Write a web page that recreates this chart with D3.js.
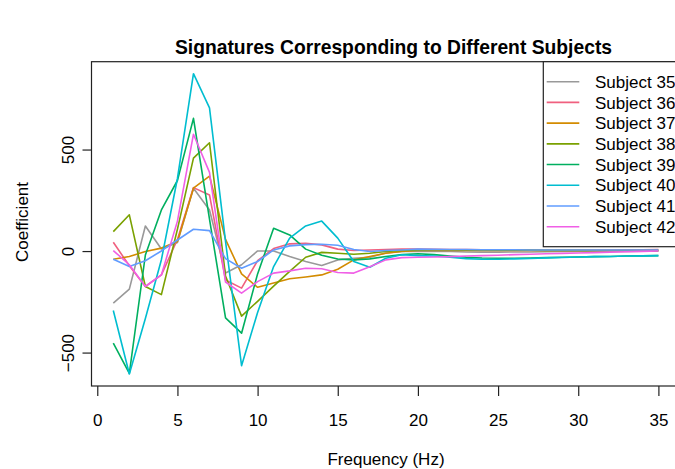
<!DOCTYPE html>
<html>
<head>
<meta charset="utf-8">
<script src="https://cdn.jsdelivr.net/npm/d3@7"></script>
<style>
  html, body { margin: 0; padding: 0; background: #fff; }
  svg { display: block; font-family: "Liberation Sans", Arial, sans-serif; }
</style>
</head>
<body>
<svg id="chart" width="675" height="469"></svg>
<script>
const frequencies = d3.range(1, 36);
const subjects = ["Subject 35", "Subject 36", "Subject 37", "Subject 38", "Subject 39", "Subject 40", "Subject 41", "Subject 42"];
const colors = ["#999999", "#F0607F", "#D38B00", "#7AA100", "#00AF5F", "#00BDD0", "#619CFF", "#F05FE6"];

const s35 = [-254, -185, 126, 13, 45, 312, 205, -106, -65, 3, 3, -24, -49, -69, -41, -33, -28, -7, 0, 0, 0, 0, -2, -3, -3, -2, -2, -1, 0, 0, 0, 1, 1, 2, 2];
const s36 = [46, -70, -172, -115, 60, 315, 279, -140, -180, -45, 15, 38, 41, 33, 12, 5, 8, 10, 12, 12, 11, 10, 10, 9, 9, 9, 8, 8, 8, 8, 8, 8, 9, 9, 10];
const s37 = [-38, -24, 0, 17, 49, 312, 372, 60, -110, -176, -155, -134, -125, -115, -87, -41, -24, -8, 0, 5, 6, 6, 5, 5, 5, 5, 5, 5, 5, 5, 5, 5, 5, 5, 5];
const s38 = [98, 181, -172, -212, 110, 460, 536, -120, -318, -245, -170, -98, -28, -4, -8, -13, -8, 0, 5, 8, 9, 9, 8, 8, 7, 7, 7, 6, 6, 6, 5, 5, 5, 5, 5];
const s39 = [-451, -600, -17, 205, 350, 656, 160, -327, -402, -110, 115, 82, 12, -18, -37, -41, -36, -24, -15, -11, -15, -22, -28, -32, -33, -33, -32, -30, -28, -27, -25, -24, -22, -21, -20];
const s40 = [-290, -603, -330, -40, 360, 876, 708, 50, -562, -300, -74, 66, 126, 150, 66, -49, -77, -33, -16, -20, -22, -28, -35, -38, -38, -36, -34, -31, -29, -27, -25, -24, -22, -21, -20];
const s41 = [-38, -74, -45, 3, 57, 110, 103, -35, -82, -49, 8, 28, 34, 36, 31, 10, 0, 5, 8, 12, 11, 10, 10, 9, 9, 9, 8, 8, 8, 8, 8, 8, 8, 8, 8];
const s42 = [5, -65, -172, -115, 150, 578, 390, -150, -205, -148, -106, -95, -82, -85, -103, -106, -75, -41, -30, -28, -27, -25, -22, -20, -18, -15, -13, -11, -9, -7, -5, -3, -1, 1, 3];
const seriesValues = [s35, s36, s37, s38, s39, s40, s41, s42];

const xTicks = [0, 5, 10, 15, 20, 25, 30, 35];
const yTicks = [-500, 0, 500];

const title = "Signatures Corresponding to Different Subjects";
const xLabel = "Frequency (Hz)";
const yLabel = "Coefficient";

const svg = d3.select("#chart");
const plot = { left: 91.5, right: 680.2, top: 61.7, bottom: 386 };

const xMin = d3.min(frequencies), xMax = d3.max(frequencies);
const xPad = 0.04 * (xMax - xMin);
const x = d3.scaleLinear().domain([xMin - xPad, xMax + xPad]).range([plot.left, plot.right]);

const allVals = seriesValues.flat();
const yMin = d3.min(allVals), yMax = d3.max(allVals);
const yPad = 0.04 * (yMax - yMin);
const y = d3.scaleLinear().domain([yMin - yPad, yMax + yPad]).range([plot.bottom, plot.top]);

const fontSize = 17;

// lines
const line = d3.line().x((d, i) => x(frequencies[i])).y(d => y(d));
svg.append("g").selectAll("path")
  .data(seriesValues)
  .join("path")
  .attr("d", d => line(d))
  .attr("fill", "none")
  .attr("stroke", (d, i) => colors[i])
  .attr("stroke-width", 1.6)
  .attr("stroke-linejoin", "round");

// box
svg.append("rect")
  .attr("x", plot.left).attr("y", plot.top)
  .attr("width", plot.right - plot.left).attr("height", plot.bottom - plot.top)
  .attr("fill", "none").attr("stroke", "#222").attr("stroke-width", 1.2);

// x axis
const xAxis = d3.axisBottom(x).tickValues(xTicks).tickSize(10).tickPadding(18).tickFormat(d3.format("d"));
const gx = svg.append("g").attr("transform", `translate(0,${plot.bottom})`).call(xAxis);
gx.select(".domain").remove();
gx.selectAll("line").attr("stroke", "#222").attr("stroke-width", 1.2);
gx.selectAll("text").attr("font-size", fontSize).attr("font-family", "Liberation Sans, Arial, sans-serif").attr("fill", "#000");

// y axis
const yAxis = d3.axisLeft(y).tickValues(yTicks).tickSize(9).tickFormat(d => d < 0 ? "\u2212" + Math.abs(d) : d);
const gy = svg.append("g").attr("transform", `translate(${plot.left},0)`).call(yAxis);
gy.select(".domain").remove();
gy.selectAll("line").attr("stroke", "#222").attr("stroke-width", 1.2);
gy.selectAll("text")
  .attr("font-size", fontSize)
  .attr("font-family", "Liberation Sans, Arial, sans-serif")
  .attr("fill", "#000")
  .attr("text-anchor", "middle")
  .attr("x", 0).attr("dy", 0)
  .attr("transform", d => `translate(-22,${y(d)}) rotate(-90)`)
  .attr("y", 0)
  .attr("dominant-baseline", "middle");
gy.selectAll(".tick").attr("transform", null);
gy.selectAll(".tick line").attr("y1", d => y(d)).attr("y2", d => y(d)).attr("x2", -9);

// title and labels
svg.append("text").attr("x", 393.5).attr("y", 54).attr("text-anchor", "middle")
  .attr("font-weight", "bold").attr("font-size", 19.3).text(title);
svg.append("text").attr("x", 386).attr("y", 465).attr("text-anchor", "middle")
  .attr("font-size", fontSize).text(xLabel);
svg.append("text").attr("transform", `translate(28,222) rotate(-90)`).attr("text-anchor", "middle")
  .attr("font-size", fontSize).text(yLabel);

// legend
const leg = { left: 543.3, top: 61.7, bottom: 246.7, right: 700 };
svg.append("rect").attr("x", leg.left).attr("y", leg.top)
  .attr("width", leg.right - leg.left).attr("height", leg.bottom - leg.top)
  .attr("fill", "#fff").attr("stroke", "#222").attr("stroke-width", 1.2);
const rowY = d3.scaleLinear().domain([0, subjects.length - 1]).range([81.7, 226.7]);
const lg = svg.append("g").selectAll("g").data(subjects).join("g")
  .attr("transform", (d, i) => `translate(0,${rowY(i)})`);
lg.append("line").attr("x1", 546.7).attr("x2", 579.3)
  .attr("stroke", (d, i) => colors[i]).attr("stroke-width", 1.6);
lg.append("text").attr("x", 595).attr("dy", "0.36em").attr("font-size", fontSize).text(d => d);
</script>
</body>
</html>
